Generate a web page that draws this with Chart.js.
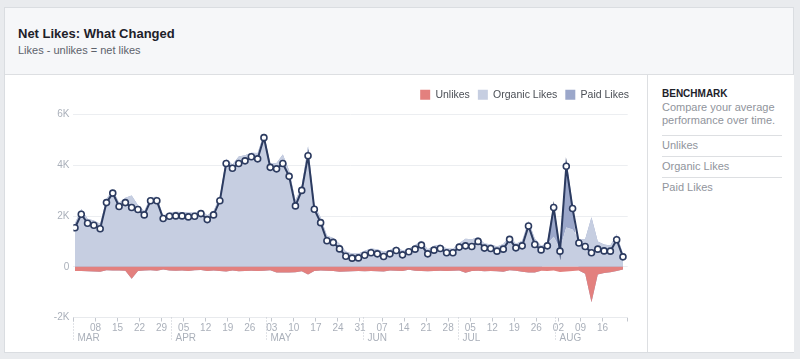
<!DOCTYPE html>
<html>
<head>
<meta charset="utf-8">
<script src="https://cdn.jsdelivr.net/npm/chart.js@4.4.0/dist/chart.umd.min.js"></script>
<style>
  html, body { margin: 0; padding: 0; }
  body { width: 800px; height: 359px; background: #e9ebee; position: relative; overflow: hidden;
         font-family: "Liberation Sans", Arial, Helvetica, sans-serif; }
  .card { position: absolute; left: 4px; top: 7px; width: 790px; height: 346px; background: #fff;
          border: 1px solid #dadde1; box-sizing: border-box; }
  .header { position: absolute; left: 5px; top: 8px; width: 788px; height: 66px; background: #f6f7f9;
            border-bottom: 1px solid #dddfe2; }
  .title { position: absolute; left: 18px; top: 26px; font-size: 13px; line-height: 15px; font-weight: bold; color: #1d2129; }
  .subtitle { position: absolute; left: 18px; top: 44px; font-size: 11px; line-height: 13px; color: #5d626b; }
  .panel { position: absolute; left: 647px; top: 75px; width: 146px; height: 277px; border-left: 1px solid #dddfe2; background: #fff; }
  .bench { position: absolute; left: 662px; top: 88px; font-size: 10px; line-height: 12px; font-weight: bold; color: #1d2129; }
  .bench-desc { position: absolute; left: 662px; top: 101px; font-size: 11px; line-height: 13.4px; color: #90949c; }
  .sep { position: absolute; left: 662px; width: 120px; height: 1px; background: #dddfe2; }
  .item { position: absolute; left: 662px; font-size: 11px; line-height: 13px; color: #90949c; }
  #wrap { position: absolute; left: 5px; top: 75px; width: 642px; height: 277px; }
</style>
</head>
<body>
<div class="card"></div>
<div class="header"></div>
<div class="title">Net Likes: What Changed</div>
<div class="subtitle">Likes - unlikes = net likes</div>
<div class="panel"></div>
<div class="bench">BENCHMARK</div>
<div class="bench-desc">Compare your average<br>performance over time.</div>
<div class="sep" style="top:135px"></div>
<div class="item" style="top:139px">Unlikes</div>
<div class="sep" style="top:156px"></div>
<div class="item" style="top:160px">Organic Likes</div>
<div class="sep" style="top:177px"></div>
<div class="item" style="top:181px">Paid Likes</div>
<div id="wrap"><canvas id="likes-chart"></canvas></div>

<script>
// one point every 2 days, starting 1 Mar 2015 (x = days since 1 Mar)
var FIRST_DAY = 0.5;
var STEP_DAYS = 2;

var netLikes = [1540, 2070, 1715, 1635, 1500, 2530, 2905, 2375, 2530, 2335,
  2255, 2045, 2600, 2600, 1900, 1990, 2005, 2005, 1965, 1990,
  2095, 1860, 2045, 2600, 4070, 3885, 4070, 4175, 4335, 4255,
  5090, 3920, 3860, 4070, 3565, 2400, 3010, 4375, 2270, 1740,
  1025, 960, 705, 415, 340, 350, 455, 550, 510, 405,
  510, 640, 470, 590, 695, 855, 510, 655, 720, 550,
  550, 775, 825, 800, 1000, 735, 720, 615, 695, 1080,
  745, 825, 1610, 880, 665, 825, 2335, 615, 3960, 2295,
  935, 800, 550, 695, 625, 615, 1065, 390];

var unlikes = [-170, -170, -180, -190, -200, -140, -150, -150, -160, -470,
  -170, -150, -140, -160, -110, -150, -160, -150, -170, -140,
  -130, -170, -150, -170, -190, -150, -180, -170, -160, -170,
  -160, -140, -230, -230, -230, -220, -180, -300, -170, -150,
  -160, -170, -200, -190, -180, -170, -180, -170, -180, -190,
  -150, -160, -170, -120, -160, -170, -180, -170, -160, -170,
  -160, -150, -240, -170, -160, -180, -170, -180, -200, -140,
  -160, -200, -230, -230, -160, -170, -150, -210, -190, -170,
  -150, -280, -1400, -300, -250, -220, -170, -110];

var organicLikes = [1710, 2280, 1895, 1825, 1700, 2670, 3055, 2525, 2720, 2805,
  2425, 2195, 2740, 2760, 2010, 2140, 2165, 2155, 2135, 2130,
  2225, 2030, 2195, 2770, 4260, 4035, 4350, 4400, 4495, 4480,
  5250, 4060, 4090, 4430, 3795, 2620, 3190, 4750, 2440, 1950,
  1230, 1130, 905, 605, 520, 520, 635, 720, 690, 595,
  660, 800, 640, 710, 855, 1025, 690, 825, 880, 720,
  710, 925, 1100, 1080, 1160, 915, 890, 795, 895, 1220,
  905, 1025, 1800, 1110, 825, 895, 1185, 725, 1550, 1465,
  1085, 1080, 1950, 1000, 875, 835, 1280, 500];

var paidLikes = [0, 0, 0, 0, 0, 0, 0, 0, 0, 0,
  0, 0, 0, 0, 0, 0, 0, 0, 0, 0,
  0, 0, 0, 0, 0, 0, 0, 0, 0, 0,
  0, 0, 0, 0, 0, 0, 0, 0, 0, 0,
  0, 0, 0, 0, 0, 0, 0, 0, 0, 0,
  0, 0, 0, 0, 0, 0, 0, 0, 0, 0,
  0, 0, 0, 0, 0, 0, 0, 0, 0, 0,
  0, 0, 0, 0, 0, 100, 1300, 100, 2700, 1000,
  0, 0, 0, 0, 0, 0, 0, 0];

var weekTickDays = [7, 14, 21, 28, 35, 42, 49, 56, 63, 70, 77, 84, 91, 98, 105, 112, 119, 126, 133, 140, 147, 154, 161, 168];
var weekTickLabels = ['08', '15', '22', '29', '05', '12', '19', '26', '03', '10', '17', '24', '31', '07', '14', '21', '28', '05', '12', '19', '26', '02', '09', '16'];
var monthDays = [0, 31, 61, 92, 122, 153];
var monthLabels = ['MAR', 'APR', 'MAY', 'JUN', 'JUL', 'AUG'];
var yTicks = [-2000, 0, 2000, 4000, 6000];

var AXIS_END = 176;
var TEXT_GREY = '#aab0ba';
var FONT = '"Liberation Sans", Arial, Helvetica, sans-serif';

function toPoints(values) {
  return values.map(function(v, i) { return { x: FIRST_DAY + i * STEP_DAYS, y: v }; });
}

var monthMarks = {
  id: 'monthMarks',
  afterDraw: function(chart) {
    var ctx = chart.ctx;
    var xs = chart.scales.x;
    var bottom = chart.chartArea.bottom;
    ctx.save();
    ctx.strokeStyle = '#c3c7ce';
    ctx.lineWidth = 1;
    ctx.setLineDash([1, 2]);
    ctx.fillStyle = TEXT_GREY;
    ctx.font = '10px ' + FONT;
    ctx.textBaseline = 'middle';
    monthDays.forEach(function(d, i) {
      var x = Math.round(xs.getPixelForValue(d)) + 0.5;
      ctx.beginPath();
      ctx.moveTo(x, bottom);
      ctx.lineTo(x, bottom + 24);
      ctx.stroke();
      ctx.fillText(monthLabels[i], x + 4, bottom + 20.5);
    });
    ctx.restore();
  }
};

Chart.defaults.font.family = FONT;
Chart.defaults.animation = false;

new Chart(document.getElementById('likes-chart'), {
  type: 'line',
  data: {
    datasets: [
      {
        label: 'Unlikes',
        data: toPoints(unlikes),
        backgroundColor: '#e3807e',
        borderWidth: 0,
        pointRadius: 0,
        fill: 'origin',
        stack: 'likes',
        order: 1
      },
      {
        label: 'Organic Likes',
        data: toPoints(organicLikes),
        backgroundColor: '#c6cee1',
        borderWidth: 0,
        pointRadius: 0,
        fill: 'origin',
        stack: 'likes',
        order: 1
      },
      {
        label: 'Paid Likes',
        data: toPoints(paidLikes),
        backgroundColor: '#9ba7ca',
        borderWidth: 0,
        pointRadius: 0,
        fill: '-1',
        stack: 'likes',
        order: 1
      },
      {
        label: 'Net Likes',
        data: toPoints(netLikes),
        borderColor: '#2c3b60',
        borderWidth: 2,
        pointRadius: 3,
        pointBackgroundColor: '#fff',
        pointBorderColor: '#2c3b60',
        pointBorderWidth: 1.6,
        fill: false,
        stack: 'net',
        order: 0
      }
    ]
  },
  options: {
    responsive: true,
    maintainAspectRatio: false,
    layout: { padding: { top: 6.5, right: 10, bottom: 0, left: 0 } },
    plugins: {
      tooltip: { enabled: false },
      legend: {
        position: 'top',
        align: 'end',
        labels: {
          boxWidth: 10,
          boxHeight: 10,
          padding: 8,
          color: '#4b4f56',
          font: { size: 10.5 },
          filter: function(item) { return item.text !== 'Net Likes'; }
        }
      }
    },
    scales: {
      x: {
        type: 'linear',
        min: 0,
        max: AXIS_END,
        afterBuildTicks: function(scale) {
          scale.ticks = [0].concat(weekTickDays, [AXIS_END]).map(function(v) { return { value: v }; });
        },
        afterFit: function(scale) { scale.height = 34.5; },
        ticks: {
          autoSkip: false,
          maxRotation: 0,
          padding: 1,
          color: TEXT_GREY,
          font: { size: 10 },
          callback: function(value) {
            var i = weekTickDays.indexOf(value);
            return i >= 0 ? weekTickLabels[i] : '';
          }
        },
        grid: { drawOnChartArea: false, drawTicks: true, tickLength: 4, tickColor: '#c3c7ce' },
        border: { display: true, color: '#e8eaed' }
      },
      y: {
        type: 'linear',
        stacked: true,
        min: -2000,
        max: 6180,
        afterBuildTicks: function(scale) {
          scale.ticks = yTicks.map(function(v) { return { value: v }; });
        },
        afterFit: function(scale) { scale.width = 68.4; },
        ticks: {
          padding: 4,
          color: TEXT_GREY,
          font: { size: 10 },
          callback: function(value) { return value === 0 ? '0' : (value / 1000) + 'K'; }
        },
        grid: { color: '#eceef1', drawTicks: false },
        border: { display: false }
      },
      yPad: {
        type: 'linear',
        position: 'right',
        grid: { display: false },
        ticks: { display: false },
        border: { display: false },
        afterFit: function(scale) { scale.width = 9.3; }
      }
    }
  },
  plugins: [monthMarks]
});
</script>
</body>
</html>
